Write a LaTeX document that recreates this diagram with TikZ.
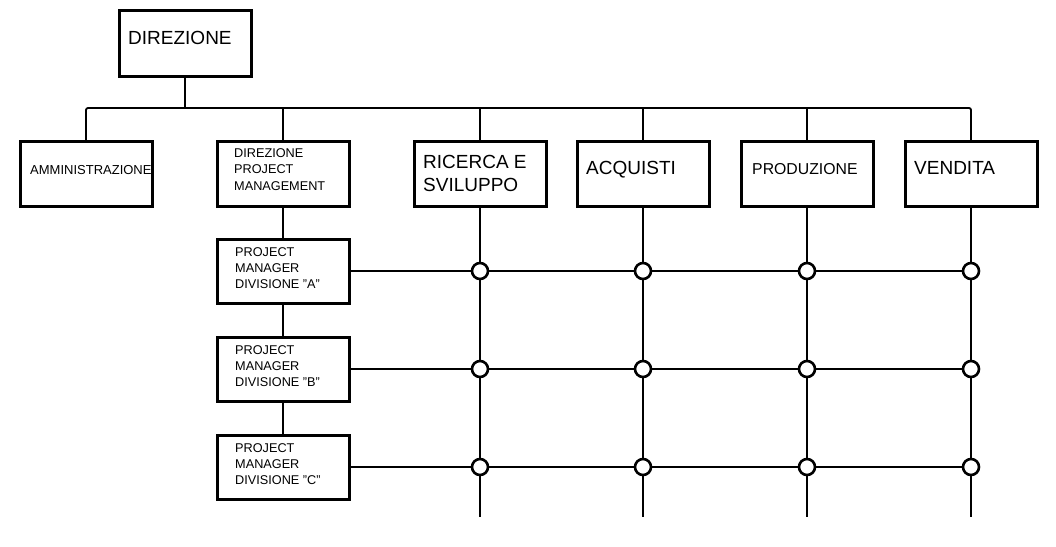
\documentclass[tikz,border=0pt]{standalone}
\usepackage{fontspec}
\setmainfont{Liberation Sans}
\begin{document}
\begin{tikzpicture}[x=1pt,y=-1pt,
  box/.style={draw, line width=3pt, fill=white, minimum width=132pt, minimum height=65pt, inner sep=0pt},
  pmbox/.style={box, minimum height=64pt},
  lbl/.style={anchor=base west, inner sep=0pt},
  big/.style={lbl, font=\fontsize{19}{23}\selectfont},
  small/.style={lbl, font=\fontsize{12.7}{16}\selectfont},
  conn/.style={line width=1.4pt},
  stem/.style={line width=2pt},
  dot/.style={circle, draw, line width=2.6pt, fill=white, minimum size=16pt, inner sep=0pt}]
\useasboundingbox (0,0) rectangle (1056,546);

% boxes
\node[box, minimum height=66pt] (dir) at (185,43) {};
\node[box] (amm) at (86,174) {};
\node[box] (dpm) at (283,174) {};
\node[box] (ric) at (480,174) {};
\node[box] (acq) at (643,174) {};
\node[box] (pro) at (807,174) {};
\node[box] (ven) at (971,174) {};
\node[pmbox] (pma) at (283,271) {};
\node[pmbox] (pmb) at (283,369) {};
\node[pmbox] (pmc) at (283,467) {};

% texts
\node[big] (tdir) at (128,44) {DIREZIONE};
\node[lbl, font=\fontsize{13}{16}\selectfont] (tamm) at (30,174) {AMMINISTRAZIONE};
\node[small] (tdpm1) at (234,157) {DIREZIONE};
\node[small] (tdpm2) at (234,173.5) {PROJECT};
\node[small] (tdpm3) at (234,190) {MANAGEMENT};
\node[big] (tric1) at (423,168) {RICERCA E};
\node[big] (tric2) at (423,191) {SVILUPPO};
\node[big] (tacq) at (586,174) {ACQUISTI};
\node[lbl, font=\fontsize{15.8}{19}\selectfont] (tpro) at (752,174) {PRODUZIONE};
\node[big] (tven) at (914,174) {VENDITA};
\node[small] (ta1) at (235,256) {PROJECT};
\node[small] (ta2) at (235,272) {MANAGER};
\node[small] (ta3) at (235,288) {DIVISIONE "A"};
\node[small] (tb1) at (235,354) {PROJECT};
\node[small] (tb2) at (235,370) {MANAGER};
\node[small] (tb3) at (235,386) {DIVISIONE "B"};
\node[small] (tc1) at (235,452) {PROJECT};
\node[small] (tc2) at (235,468) {MANAGER};
\node[small] (tc3) at (235,484) {DIVISIONE "C"};

% junction and ends
\coordinate (bj) at (185,108);
\coordinate (bot) at (0,517);

% connectors
\draw[stem] (dir.south) -- (bj);
\draw[line width=1.8pt, rounded corners=2pt] (amm.north) |- (bj) -| (ven.north);
\draw[conn] (dpm.north) -- (dpm.north |- bj);
\draw[conn] (ric.north) -- (ric.north |- bj);
\draw[conn] (acq.north) -- (acq.north |- bj);
\draw[conn] (pro.north) -- (pro.north |- bj);
\draw[stem] (dpm.south) -- (pma.north);
\draw[stem] (pma.south) -- (pmb.north);
\draw[stem] (pmb.south) -- (pmc.north);
\draw[conn] (ric.south) -- (ric.south |- bot);
\draw[conn] (acq.south) -- (acq.south |- bot);
\draw[conn] (pro.south) -- (pro.south |- bot);
\draw[conn] (ven.south) -- (ven.south |- bot);
\draw[conn] (pma.east) -- (pma.east -| ven.south);
\draw[conn] (pmb.east) -- (pmb.east -| ven.south);
\draw[conn] (pmc.east) -- (pmc.east -| ven.south);

% crossing circles
\foreach \r in {pma,pmb,pmc}{
  \foreach \c in {ric,acq,pro,ven}{
    \node[dot] (d-\r-\c) at (\r -| \c) {};
  }
}
\end{tikzpicture}
\end{document}
